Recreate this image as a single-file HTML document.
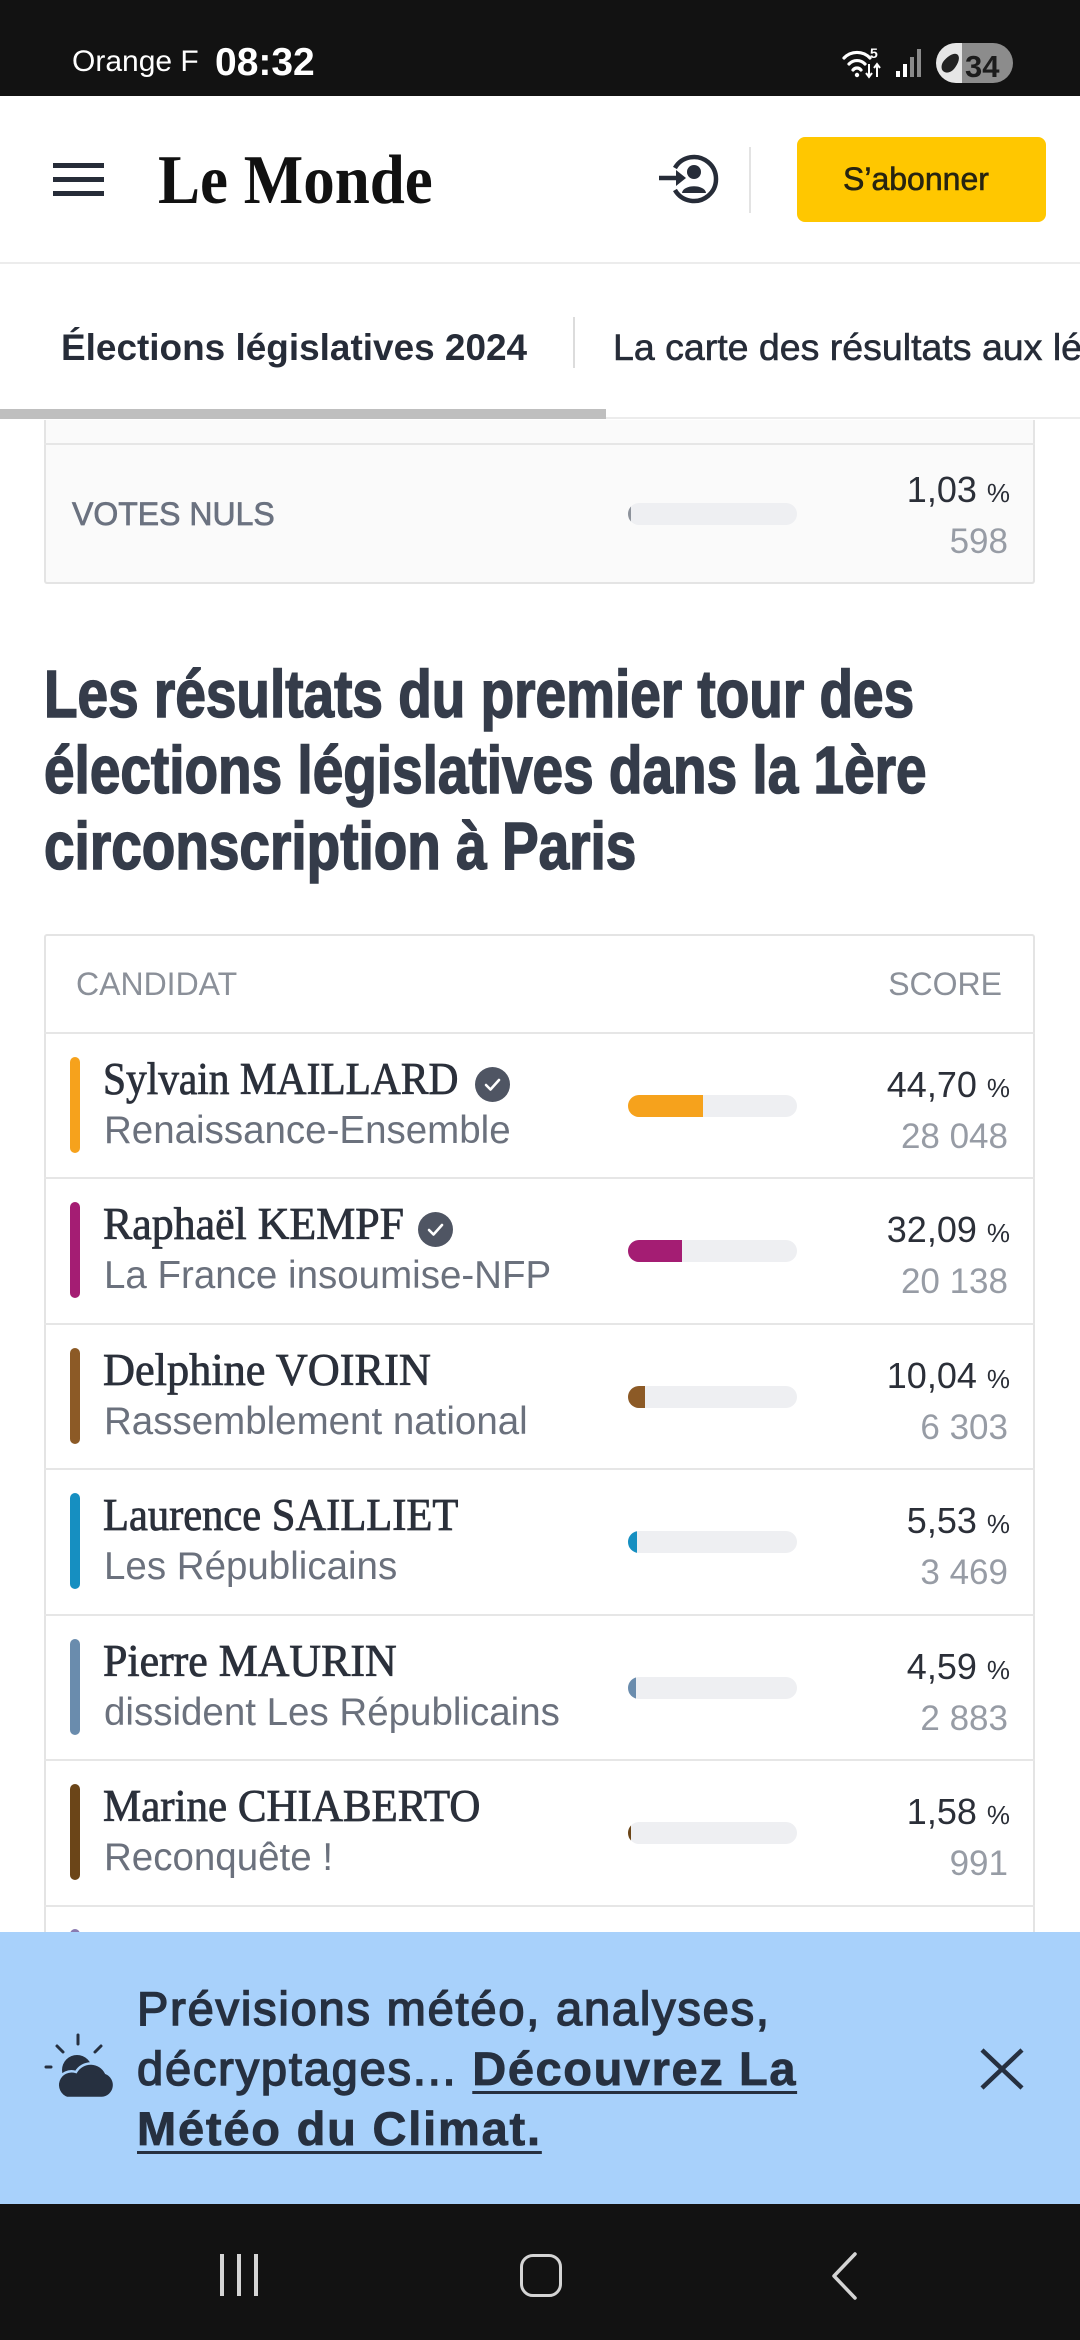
<!DOCTYPE html>
<html><head><meta charset="utf-8">
<style>
*{margin:0;padding:0;box-sizing:border-box}
html,body{width:1080px;height:2340px;overflow:hidden;background:#fff;font-family:"Liberation Sans",sans-serif;position:relative}
.a{position:absolute;white-space:nowrap;line-height:1}
.serif{font-family:"Liberation Serif",serif}
.sep{position:absolute;left:44px;width:991px;height:2px;background:#e6e6e6}
.cb{position:absolute;left:70px;width:10px;height:96px;border-radius:5px}
.nm{position:absolute;left:103px;font-family:"Liberation Serif",serif;font-size:45px;line-height:1;color:#2b303b;white-space:nowrap;-webkit-text-stroke:0.8px #2b303b;transform-origin:0 0}
.pt{position:absolute;left:104px;font-size:38.5px;line-height:1;color:#6b717d;white-space:nowrap}
.bar{position:absolute;left:628px;width:169px;height:22px;border-radius:11px;background:#eeeff2;overflow:hidden}
.bar i{display:block;height:22px}
.pc{position:absolute;right:70px;font-size:36px;line-height:1;color:#2b2f38;white-space:nowrap;text-align:right}
.pc span{font-size:26px;margin-left:10px}
.ct{position:absolute;right:72px;font-size:35px;line-height:1;color:#979ca5;white-space:nowrap;text-align:right}
.ck{position:absolute;width:35px;height:35px;border-radius:50%;background:#4f5563}
.title{position:absolute;left:44px;font-size:67px;line-height:1;font-weight:bold;color:#353c4a;white-space:nowrap;transform:scaleX(0.82);transform-origin:0 0;-webkit-text-stroke:1.6px #353c4a}
</style></head><body>

<!-- status bar -->
<div class="a" style="left:0;top:0;width:1080px;height:96px;background:#121212"></div>
<div class="a" style="left:72px;top:47px;font-size:30px;color:#fff">Orange F</div>
<div class="a" style="left:215px;top:43px;font-size:39px;font-weight:bold;color:#fff">08:32</div>
<svg class="a" style="left:840px;top:44px" width="52" height="38" viewBox="0 0 52 38">
  <path d="M4,14 A18,18 0 0 1 30,14" fill="none" stroke="#fff" stroke-width="3.2" stroke-linecap="round"/>
  <path d="M9,20 A11,11 0 0 1 25,20" fill="none" stroke="#fff" stroke-width="3.2" stroke-linecap="round"/>
  <path d="M13,26 A5,5 0 0 1 21,26" fill="none" stroke="#fff" stroke-width="3.2" stroke-linecap="round"/>
  <circle cx="17" cy="31" r="2.2" fill="#fff"/>
  <text x="30" y="14" font-family="Liberation Sans" font-weight="bold" font-size="14" fill="#fff">5</text>
  <path d="M29,20 v12 M26,29 l3,4 l3,-4 M37,33 v-12 M34,24 l3,-4 l3,4" stroke="#fff" stroke-width="2" fill="none"/>
</svg>
<div class="a" style="left:896px;top:71px;width:4px;height:6px;background:#fff"></div>
<div class="a" style="left:903px;top:64px;width:4px;height:13px;background:#fff"></div>
<div class="a" style="left:910px;top:57px;width:4px;height:20px;background:#8a8a8a"></div>
<div class="a" style="left:917px;top:49px;width:4px;height:28px;background:#8a8a8a"></div>
<div class="a" style="left:936px;top:43px;width:77px;height:40px;border-radius:20px;background:linear-gradient(to right,#e6e6e6 0,#e6e6e6 26px,#8c8c8c 26px)"></div>
<div class="a" style="left:944px;top:52px;width:13px;height:22px;border-radius:50% 50% 50% 50%/60% 60% 40% 40%;background:#222;transform:rotate(40deg)"></div>
<div class="a" style="left:965px;top:51px;font-size:31px;font-weight:bold;color:#1c1c1c">34</div>

<!-- header -->
<div class="a" style="left:53px;top:163px;width:51px;height:5px;background:#262c38"></div>
<div class="a" style="left:53px;top:177px;width:51px;height:5px;background:#262c38"></div>
<div class="a" style="left:53px;top:191px;width:51px;height:5px;background:#262c38"></div>
<div class="a serif" style="left:158px;top:146px;font-size:70px;font-weight:bold;color:#111;transform:scaleX(0.9);transform-origin:0 0">Le Monde</div>
<svg class="a" style="left:650px;top:145px" width="80" height="68" viewBox="0 0 80 68">
  <path d="M24.95,23 A22,22 0 1 1 24.95,45" fill="none" stroke="#262c38" stroke-width="4.5"/>
  <path d="M9,33 H30" stroke="#262c38" stroke-width="4.5"/>
  <path d="M26,25 L36,33 L26,41 Z" fill="#262c38"/>
  <circle cx="44" cy="27" r="7" fill="#262c38"/>
  <path d="M32,48 C33,39 55,39 56,48 Z" fill="#262c38"/>
</svg>
<div class="a" style="left:749px;top:147px;width:2px;height:66px;background:#e3e3e3"></div>
<div class="a" style="left:797px;top:137px;width:249px;height:85px;border-radius:8px;background:#ffc700"></div>
<div class="a" style="left:843px;top:163px;font-size:32px;color:#272411;-webkit-text-stroke:0.6px #272411">S’abonner</div>
<div class="a" style="left:0;top:262px;width:1080px;height:2px;background:#ececec"></div>

<!-- tabs -->
<div class="a" style="left:61px;top:329px;font-size:37.5px;font-weight:bold;color:#262c38;transform:scaleX(0.985);transform-origin:0 0">Élections législatives 2024</div>
<div class="a" style="left:573px;top:317px;width:2px;height:51px;background:#dcdcdc"></div>
<div class="a" style="left:613px;top:320px;width:467px;height:60px;overflow:hidden">
  <div class="a" style="left:0;top:9px;font-size:37.5px;color:#262c38;-webkit-text-stroke:0.6px #262c38">La carte des résultats aux lé</div>
</div>
<div class="a" style="left:0;top:417px;width:1080px;height:2px;background:#ececec"></div>
<div class="a" style="left:0;top:409px;width:606px;height:10px;background:#bfbfbf"></div>

<!-- top partial card -->
<div class="a" style="left:44px;top:420px;width:991px;height:164px;background:#fafafa;border:2px solid #e4e4e4;border-top:none;border-radius:0 0 3px 3px"></div>
<div class="sep" style="top:443px"></div>
<div class="a" style="left:72px;top:498px;font-size:32px;color:#6b7280;-webkit-text-stroke:0.7px #6b7280">VOTES NULS</div>
<div class="bar" style="top:503px"><i style="width:3px;background:#8d929b"></i></div>
<div class="pc" style="top:472px">1,03<span>%</span></div>
<div class="ct" style="top:524px">598</div>

<!-- title -->
<div class="title" style="top:661px">Les résultats du premier tour des</div>
<div class="title" style="top:737px">élections législatives dans la 1ère</div>
<div class="title" style="top:813px">circonscription à Paris</div>

<!-- table card -->
<div class="a" style="left:44px;top:934px;width:991px;height:1100px;border:2px solid #e4e4e4;border-radius:3px;background:#fff"></div>
<div class="a" style="left:76px;top:968px;font-size:32px;color:#8b9099">CANDIDAT</div>
<div class="a" style="right:78px;top:968px;font-size:32px;color:#8b9099">SCORE</div>
<div class="sep" style="top:1032px"></div>

<!-- row 1 -->
<div class="cb" style="top:1057px;background:#f6a21c"></div>
<div class="nm" style="top:1057px;transform:scaleX(0.92)">Sylvain MAILLARD</div>
<div class="ck" style="left:475px;top:1067px"><svg width="35" height="35" viewBox="0 0 35 35"><path d="M11,18 L15.5,22.5 L24,13" fill="none" stroke="#fff" stroke-width="2.6" stroke-linecap="round" stroke-linejoin="round"/></svg></div>
<div class="pt" style="top:1112px">Renaissance-Ensemble</div>
<div class="bar" style="top:1095px"><i style="width:75px;background:#f6a21c"></i></div>
<div class="pc" style="top:1067px">44,70<span>%</span></div>
<div class="ct" style="top:1119px">28&nbsp;048</div>
<div class="sep" style="top:1177px"></div>

<!-- row 2 -->
<div class="cb" style="top:1202px;background:#a41d73"></div>
<div class="nm" style="top:1202px;transform:scaleX(0.975)">Raphaël KEMPF</div>
<div class="ck" style="left:418px;top:1212px"><svg width="35" height="35" viewBox="0 0 35 35"><path d="M11,18 L15.5,22.5 L24,13" fill="none" stroke="#fff" stroke-width="2.6" stroke-linecap="round" stroke-linejoin="round"/></svg></div>
<div class="pt" style="top:1257px">La France insoumise-NFP</div>
<div class="bar" style="top:1240px"><i style="width:54px;background:#a41d73"></i></div>
<div class="pc" style="top:1212px">32,09<span>%</span></div>
<div class="ct" style="top:1264px">20&nbsp;138</div>
<div class="sep" style="top:1323px"></div>

<!-- row 3 -->
<div class="cb" style="top:1348px;background:#8c5a26"></div>
<div class="nm" style="top:1348px;transform:scaleX(0.985)">Delphine VOIRIN</div>
<div class="pt" style="top:1403px">Rassemblement national</div>
<div class="bar" style="top:1386px"><i style="width:17px;background:#8c5a26"></i></div>
<div class="pc" style="top:1358px">10,04<span>%</span></div>
<div class="ct" style="top:1410px">6&nbsp;303</div>
<div class="sep" style="top:1468px"></div>

<!-- row 4 -->
<div class="cb" style="top:1493px;background:#168fc1"></div>
<div class="nm" style="top:1493px;transform:scaleX(0.945)">Laurence SAILLIET</div>
<div class="pt" style="top:1548px">Les Républicains</div>
<div class="bar" style="top:1531px"><i style="width:9px;background:#168fc1"></i></div>
<div class="pc" style="top:1503px">5,53<span>%</span></div>
<div class="ct" style="top:1555px">3&nbsp;469</div>
<div class="sep" style="top:1614px"></div>

<!-- row 5 -->
<div class="cb" style="top:1639px;background:#6a8cad"></div>
<div class="nm" style="top:1639px;transform:scaleX(0.975)">Pierre MAURIN</div>
<div class="pt" style="top:1694px">dissident Les Républicains</div>
<div class="bar" style="top:1677px"><i style="width:8px;background:#6a8cad"></i></div>
<div class="pc" style="top:1649px">4,59<span>%</span></div>
<div class="ct" style="top:1701px">2&nbsp;883</div>
<div class="sep" style="top:1759px"></div>

<!-- row 6 -->
<div class="cb" style="top:1784px;background:#6b4518"></div>
<div class="nm" style="top:1784px;transform:scaleX(0.955)">Marine CHIABERTO</div>
<div class="pt" style="top:1839px">Reconquête !</div>
<div class="bar" style="top:1822px"><i style="width:3px;background:#6b4518"></i></div>
<div class="pc" style="top:1794px">1,58<span>%</span></div>
<div class="ct" style="top:1846px">991</div>
<div class="sep" style="top:1905px"></div>

<!-- row 7 (peeking) -->
<div class="cb" style="top:1929px;background:#8a7ab0"></div>

<!-- banner -->
<div class="a" style="left:0;top:1932px;width:1080px;height:272px;background:#a8d1fb"></div>
<svg class="a" style="left:40px;top:2028px" width="80" height="80" viewBox="0 0 80 80">
  <g stroke="#263040" stroke-width="3" stroke-linecap="round">
    <path d="M38,7 V16"/><path d="M17,18 L23,24"/><path d="M61,18 L55,24"/><path d="M6,39 H11"/>
  </g>
  <circle cx="37" cy="42" r="15" fill="#263040"/>
  <path d="M27,70 H62 A13,13 0 0 0 66,45 A17,17 0 0 0 36,44 A12,12 0 0 0 27,70 Z" fill="#263040" stroke="#a8d1fb" stroke-width="2.5"/>
</svg>
<div class="a" style="left:137px;top:1979px;font-size:47px;line-height:60px;color:#263040">
  <span style="letter-spacing:1.8px;-webkit-text-stroke:1.5px #263040">Prévisions météo, analyses,</span><br>
  <span style="letter-spacing:1.8px;-webkit-text-stroke:1.5px #263040">décryptages... </span><b style="letter-spacing:1.6px;-webkit-text-stroke:0.8px #263040;text-decoration:underline;text-decoration-thickness:3px;text-underline-offset:6px">Découvrez La</b><br>
  <b style="letter-spacing:1.8px;-webkit-text-stroke:0.8px #263040;text-decoration:underline;text-decoration-thickness:3px;text-underline-offset:6px">Météo du Climat.</b>
</div>
<svg class="a" style="left:978px;top:2046px" width="48" height="46" viewBox="0 0 48 46">
  <path d="M4,4 L44,42 M44,4 L4,42" stroke="#263040" stroke-width="4.5"/>
</svg>

<!-- nav bar -->
<div class="a" style="left:0;top:2204px;width:1080px;height:136px;background:#121212"></div>
<div class="a" style="left:220px;top:2254px;width:3.5px;height:42px;background:#d4d4d4"></div>
<div class="a" style="left:237px;top:2254px;width:3.5px;height:42px;background:#d4d4d4"></div>
<div class="a" style="left:254px;top:2254px;width:3.5px;height:42px;background:#d4d4d4"></div>
<div class="a" style="left:520px;top:2254px;width:42px;height:43px;border:3.5px solid #d4d4d4;border-radius:13px"></div>
<svg class="a" style="left:828px;top:2250px" width="34" height="52" viewBox="0 0 34 52">
  <path d="M27,4 L6,26 L27,48" fill="none" stroke="#d4d4d4" stroke-width="3.5" stroke-linecap="round" stroke-linejoin="round"/>
</svg>

</body></html>
